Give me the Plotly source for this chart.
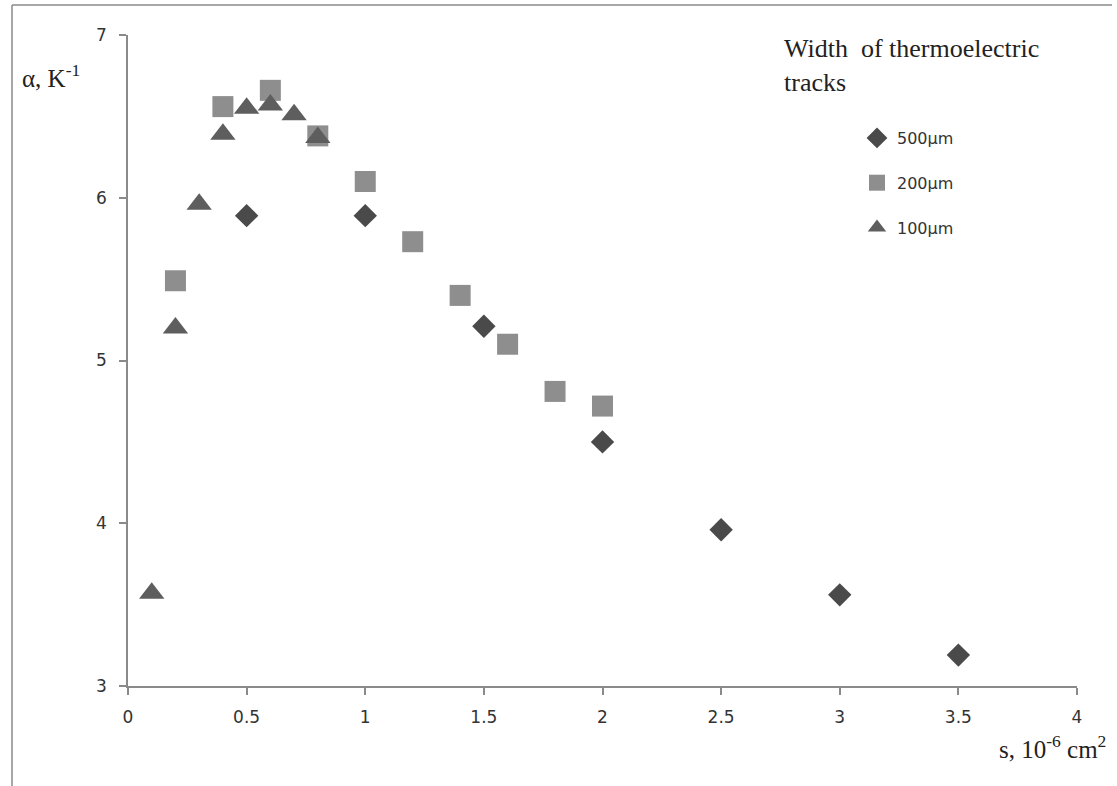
import plotly.graph_objects as go

# Data
s_500 = [0.5, 1.0, 1.5, 2.0, 2.5, 3.0, 3.5]
a_500 = [5.89, 5.89, 5.21, 4.50, 3.96, 3.56, 3.19]

s_200 = [0.2, 0.4, 0.6, 0.8, 1.0, 1.2, 1.4, 1.6, 1.8, 2.0]
a_200 = [5.49, 6.56, 6.66, 6.38, 6.10, 5.73, 5.40, 5.10, 4.81, 4.72]

s_100 = [0.1, 0.2, 0.3, 0.4, 0.5, 0.6, 0.7, 0.8]
a_100 = [3.57, 5.20, 5.96, 6.39, 6.55, 6.57, 6.51, 6.37]

x_ticks = [0, 0.5, 1, 1.5, 2, 2.5, 3, 3.5, 4]
x_tick_labels = ["0", "0.5", "1", "1.5", "2", "2.5", "3", "3.5", "4"]
y_ticks = [3, 4, 5, 6, 7]

W, H = 1117, 786
L, R, T, B = 128, 40, 35, 100
pw, ph = W - L - R, H - T - B

def px(xp):
    return (xp - L) / pw

def py(yp):
    return (H - B - yp) / ph

fig = go.Figure()
fig.add_trace(go.Scatter(x=s_500, y=a_500, mode="markers", name="500µm",
                         legendgroup="a",
                         marker=dict(symbol="diamond", size=18, color="#4a4a4a")))
fig.add_trace(go.Scatter(x=s_200, y=a_200, mode="markers", name="200µm",
                         legendgroup="b",
                         marker=dict(symbol="square", size=21, color="#8e8e8e")))
fig.add_trace(go.Scatter(x=s_100, y=a_100, mode="markers", name="100µm",
                         legendgroup="c",
                         marker=dict(symbol="triangle-up", size=22, color="#5e5e5e")))

axis_common = dict(showgrid=False, zeroline=False, showline=True, linecolor="#8a8a8a",
                   linewidth=1.5, ticks="outside", tickcolor="#8a8a8a", ticklen=7,
                   tickwidth=1.5,
                   tickfont=dict(family="DejaVu Sans", size=17, color="#333333"))

fig.update_layout(
    width=W, height=H,
    margin=dict(l=L, r=R, t=T, b=B),
    paper_bgcolor="white", plot_bgcolor="white",
    xaxis=dict(range=[0, 4], tickvals=x_ticks, ticktext=x_tick_labels,
               ticklabelstandoff=8, **axis_common),
    yaxis=dict(range=[3, 7], tickvals=y_ticks, ticklabelstandoff=9, **axis_common),
    showlegend=True,
    legend=dict(x=px(857), y=py(121), xanchor="left", yanchor="top",
                bgcolor="rgba(0,0,0,0)", tracegroupgap=21,
                font=dict(family="DejaVu Sans", size=16, color="#333333"),
                itemwidth=30),
    annotations=[
        dict(text="Width&nbsp; of thermoelectric<br>tracks", xref="paper", yref="paper",
             x=px(782), y=py(32), xanchor="left", yanchor="top", align="left",
             showarrow=False, font=dict(family="Liberation Serif", size=26, color="#222222")),
        dict(text="α, K<sup>-1</sup>", xref="paper", yref="paper",
             x=px(20), y=py(76), xanchor="left", yanchor="middle",
             showarrow=False, font=dict(family="Liberation Serif", size=25, color="#222222")),
        dict(text="s, 10<sup>-6</sup> cm<sup>2</sup>", xref="paper", yref="paper",
             x=px(1108), y=py(747), xanchor="right", yanchor="middle",
             showarrow=False, font=dict(family="Liberation Serif", size=25, color="#222222")),
    ],
    shapes=[
        dict(type="line", xref="paper", yref="paper", x0=px(12), x1=px(12),
             y0=py(5), y1=py(790), line=dict(color="#8a8a8a", width=1.5)),
        dict(type="line", xref="paper", yref="paper", x0=px(12), x1=px(1112),
             y0=py(5), y1=py(5), line=dict(color="#8a8a8a", width=1.5)),
    ],
)

fig.write_html("out.html", config={"displayModeBar": False},
               post_script="document.body.style.margin='0px';")
